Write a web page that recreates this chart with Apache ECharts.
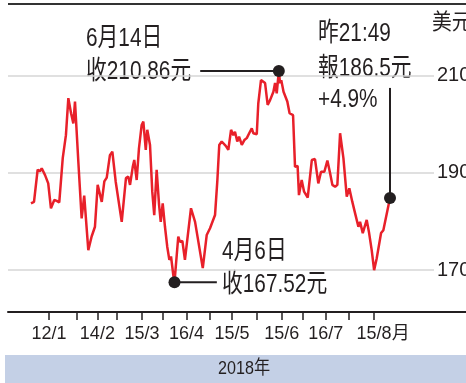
<!DOCTYPE html>
<html>
<head>
<meta charset="utf-8">
<script src="https://cdn.jsdelivr.net/npm/echarts@6/dist/echarts.min.js"></script>
<style>
html, body { margin: 0; padding: 0; background: #fff; }
#chart { width: 466px; height: 383px; }
</style>
</head>
<body>
<div id="chart"></div>
<script>
// x = day offset in 2018 (1 Jan = 0), y = share price in US$
const days = [
  -0.9, 1.1, 3.5, 5.0, 6.2, 8.4, 10.5, 12.3, 14.5, 16.1,
  17.8, 20.1, 22.2, 23.8, 25.6, 27.1, 28.2, 30.4, 32.6, 34.3,
  37.0, 39.2, 41.4, 43.2, 44.1, 45.9, 47.6, 49.2, 50.2, 51.3,
  52.9, 55.1, 59.1, 61.9, 63.4, 64.6, 66.4, 67.4, 69.0, 70.5,
  72.3, 73.4, 75.0, 76.0, 77.8, 79.3, 80.6, 82.2, 83.8, 84.9,
  86.2, 87.7, 89.2, 90.6, 91.7, 93.2, 94, 96.5, 97.6, 99.2,
  100.9, 104.9, 107.6, 112.7, 115.3, 117.5, 120.8, 122.3, 123.6, 125.2,
  127.9, 129.6, 131.4, 132.9, 134.0, 135.5, 136.7, 138.5, 140.2, 141.8,
  143.9, 145.1, 146.1, 148.4, 149.4, 151.2, 153.9, 155.6, 157.2, 159.4,
  160.5, 161.6, 163, 163.8, 164.6, 166.1, 167.4, 168.6, 170.1, 172.4,
  173.7, 175.4, 176.3, 178.1, 179.7, 180.8, 182.1, 184.8, 186.9, 189.1,
  190.9, 193.1, 195.1, 196.9, 198.4, 200.2, 201.7, 203.5, 205.7, 207.9,
  209.6, 211.6, 213.4, 215.6, 216.7, 218.5, 219.5, 221.1, 222.7, 224.4,
  226.0, 227.7, 228.8, 230.6, 232.1, 233.2, 236.5
];
const prices = [
  183.7, 184.0, 190.6, 190.3, 190.9, 189.5, 187.8, 182.7, 184.4, 184.2,
  183.9, 193.0, 197.7, 205.3, 202.2, 200.1, 204.6, 192.3, 180.6, 185.3,
  174.1, 176.9, 178.9, 187.5, 187.6, 184.0, 188.2, 189.0, 188.9, 193.6,
  194.3, 188.2, 179.9, 188.9, 189.2, 187.5, 191.2, 192.6, 188.5, 195.0,
  199.8, 200.5, 194.7, 198.8, 195.7, 186.1, 181.3, 190.6, 183.4, 179.9,
  183.7, 178.9, 174.8, 172.1, 172.8, 169.0, 167.52, 176.9, 175.8, 176.0,
  172.1, 182.7, 179.9, 170.4, 177.2, 178.6, 181.3, 188.2, 195.7, 196.4,
  195.5, 194.7, 198.8, 197.7, 198.4, 196.4, 197.4, 195.7, 196.7, 197.1,
  198.4, 199.1, 198.1, 197.9, 204.2, 209.0, 208.4, 203.9, 204.9, 206.6,
  208.4, 206.3, 210.86, 208.4, 209.0, 206.6, 206.6, 204.6, 202.2, 201.8,
  191.2, 191.4, 185.4, 188.5, 186.1, 186.4, 184.9, 192.6, 192.8, 187.8,
  190.2, 190.2, 192.5, 189.9, 187.5, 187.1, 187.5, 198.1, 193.0, 185.1,
  186.8, 184.0, 181.7, 178.9, 179.9, 177.6, 177.2, 180.3, 177.6, 174.1,
  170.0, 172.4, 172.8, 177.6, 178.2, 178.2, 184.8
];
const tickDays = [11, 29.5, 43, 56, 72.5, 86.5, 102, 117, 132, 148.5, 165, 179, 194, 209.5, 226];
const labelDays = [11, 43, 72.5, 102, 132, 165, 194, 226];
const labelTexts = ['12/1', '14/2', '15/3', '16/4', '15/5', '15/6', '16/7', '15/8月'];
const yTicks = [170, 190, 210];
const highPoint = [163, 210.86];
const lowPoint = [94, 167.52];
const lastPoint = [236.5, 184.8];

const FONT = '"Liberation Sans", "Noto Sans CJK TC", sans-serif';
const INK = '#231f20';

// narrow text, squeezed like the condensed newspaper face
function txt(text, x, y, size, align, sx) {
  return {
    type: 'text',
    x: x,
    y: y,
    scaleX: sx || 0.8,
    style: {
      text: text,
      fontSize: size,
      fontFamily: FONT,
      fill: INK,
      align: align || 'left',
      verticalAlign: 'middle'
    }
  };
}

const chart = echarts.init(document.getElementById('chart'));
chart.setOption({
  animation: false,
  grid: { left: 8, right: 32, top: 4, bottom: 71, outerBoundsMode: 'none', containLabel: false },
  xAxis: {
    type: 'value',
    min: -16.1,
    max: 265.6,
    splitLine: { show: false },
    axisLine: { lineStyle: { color: INK, width: 2 } },
    axisTick: {
      customValues: tickDays,
      length: 8,
      lineStyle: { color: INK, width: 1.5 }
    },
    axisLabel: {
      customValues: labelDays,
      showMinLabel: true,
      showMaxLabel: true,
      hideOverlap: false,
      formatter: function (v) {
        const i = labelDays.indexOf(v);
        if (i < 0) return '';
        return i === labelDays.length - 1 ? '{m|' + labelTexts[i] + '}' : labelTexts[i];
      },
      rich: {
        m: { fontSize: 18, fontFamily: FONT, color: INK, padding: [0, 0, 0, 18] }
      },
      margin: 13,
      fontSize: 18,
      fontFamily: FONT,
      color: INK
    }
  },
  yAxis: {
    type: 'value',
    position: 'right',
    min: 161.4,
    max: 224.63,
    axisLine: { show: false },
    axisTick: { show: false, customValues: yTicks },
    axisLabel: {
      customValues: yTicks,
      showMinLabel: true,
      showMaxLabel: true,
      margin: 3,
      fontSize: 20,
      fontFamily: FONT,
      color: INK
    },
    splitLine: { lineStyle: { color: '#d6d6d6', width: 1.5 } }
  },
  series: [
    {
      type: 'line',
      data: days.map((d, i) => [d, prices[i]]),
      symbol: 'none',
      lineStyle: { color: '#e8202a', width: 2.5 },
      z: 3
    },
    {
      type: 'line',
      data: [[highPoint[0] - 52, highPoint[1]], highPoint],
      symbol: 'none',
      lineStyle: { color: INK, width: 2 },
      z: 4
    },
    {
      type: 'line',
      data: [lowPoint, [lowPoint[0] + 28, lowPoint[1]]],
      symbol: 'none',
      lineStyle: { color: INK, width: 2 },
      z: 4
    },
    {
      type: 'line',
      data: [lastPoint, [lastPoint[0], 207.4]],
      symbol: 'none',
      lineStyle: { color: INK, width: 2 },
      z: 4
    },
    {
      type: 'scatter',
      data: [highPoint, lowPoint, lastPoint],
      symbolSize: 12,
      itemStyle: { color: INK, opacity: 1 },
      z: 5
    }
  ],
  graphic: [
    { type: 'line', shape: { x1: 8, y1: 4, x2: 466, y2: 4 }, style: { stroke: '#333', lineWidth: 2 } },
    { type: 'line', shape: { x1: 434, y1: 312, x2: 466, y2: 312 }, style: { stroke: INK, lineWidth: 2 } },
    { type: 'rect', shape: { x: 5, y: 355, width: 461, height: 28 }, style: { fill: '#c4d0e6' } },
    txt('2018年', 244, 369, 19, 'center', 0.85),
    txt('美元', 432, 23, 22, 'left', 0.9),
    txt('6月14日', 86, 39, 26),
    txt('收210.86元', 86, 72, 26),
    txt('昨21:49', 318, 34, 26),
    txt('報186.5元', 318, 69, 26),
    txt('+4.9%', 318, 100, 26),
    txt('4月6日', 222, 252, 26),
    txt('收167.52元', 222, 285, 26)
  ]
});
</script>
</body>
</html>
